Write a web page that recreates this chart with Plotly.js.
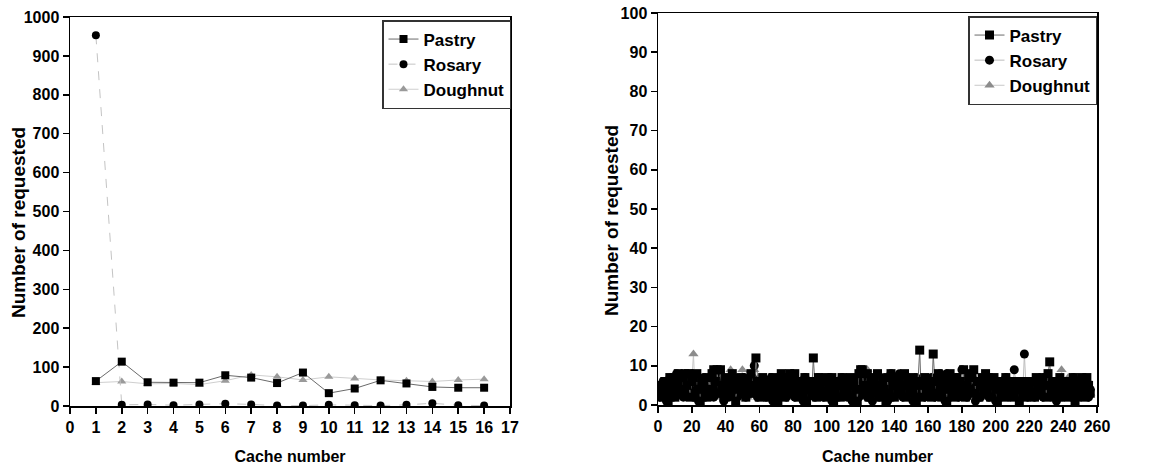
<!DOCTYPE html>
<html><head><meta charset="utf-8">
<script src="https://cdn.plot.ly/plotly-3.0.1.min.js"></script>
<style>html,body{margin:0;padding:0;background:#fff}#c{width:1174px;height:465px}</style>
</head><body><div id="c"></div>
<script>
// ---- Left chart data (cache 1..16) ----
const cacheLeft = [1,2,3,4,5,6,7,8,9,10,11,12,13,14,15,16];
const pastryLeft   = [64,114,61,60,60,79,73,59,86,33,45,66,58,49,47,47];
const rosaryLeft   = [953,3,4,2,4,6,4,1,1,3,2,1,3,7,2,1];
const doughnutLeft = [60,63,57,58,55,65,80,75,67,75,71,67,65,63,67,69];

// ---- Right chart data (cache 1..256) ----
const pastryRight = [
3,5,2,6,4,1,7,3,5,2,6,8,4,3,7,8,
5,8,2,6,7,3,8,4,1,6,5,3,2,7,4,8,
9,6,9,3,9,5,2,7,4,6,3,8,5,1,6,4,
7,3,5,2,6,4,8,5,3,12,6,2,4,7,3,5,
2,6,4,7,3,5,1,6,8,4,2,7,5,8,3,6,
8,4,2,6,5,3,7,1,4,6,3,12,5,2,7,4,
6,3,7,2,5,4,7,1,3,6,5,2,7,4,6,3,
5,7,2,6,4,1,8,9,9,3,5,8,2,6,4,7,
3,8,5,2,6,4,1,7,3,8,5,2,6,4,7,3,
5,8,2,6,4,7,3,5,1,6,14,2,5,7,3,6,
4,2,13,6,3,8,5,2,7,4,1,6,8,3,5,2,
7,4,6,3,9,2,5,7,4,8,9,3,6,2,5,7,
4,8,3,6,2,5,7,4,1,6,3,5,2,7,4,6,
3,5,2,6,4,1,5,3,6,2,4,5,3,6,2,7,
4,6,3,7,5,2,8,11,4,6,3,5,2,7,4,6,
3,5,2,6,4,7,1,5,3,6,7,4,2,7,5,3];
const rosaryRight = [
2,4,6,3,1,5,3,7,2,4,8,5,3,6,2,4,
7,3,5,8,2,6,4,1,5,3,7,2,6,4,3,5,
2,6,4,7,3,5,1,6,4,2,5,3,7,4,2,6,
3,5,7,2,4,6,3,7,10,4,2,5,3,6,4,2,
5,3,7,1,4,6,2,5,3,7,4,2,6,3,5,7,
2,4,6,3,5,1,7,4,2,6,3,5,2,4,7,3,
5,2,6,4,3,7,1,5,3,6,2,4,7,3,5,2,
6,4,1,5,3,7,2,4,6,3,5,2,7,4,1,6,
3,5,2,7,4,6,3,1,5,8,2,4,6,3,8,5,
2,7,4,6,3,5,1,4,7,2,6,3,5,2,4,6,
3,7,5,2,6,4,8,3,5,1,8,4,2,6,3,5,
7,2,4,9,3,6,2,5,4,7,3,1,6,4,2,5,
3,6,4,2,7,5,3,1,6,4,2,5,3,7,4,2,
6,3,9,5,2,4,6,3,13,4,2,6,3,5,2,4,
6,3,5,2,7,4,3,6,2,5,4,1,6,3,5,2,
4,6,3,5,2,7,4,3,6,2,5,4,3,6,2,4];
const doughnutRight = [
4,2,5,6,3,7,5,2,4,6,3,5,2,4,6,3,
5,2,4,6,13,3,5,2,6,4,3,7,5,2,4,6,
3,5,2,6,4,7,3,5,2,4,9,6,3,5,2,4,
6,9,3,5,2,4,6,3,9,5,2,4,6,3,5,2,
4,6,3,5,2,7,4,3,6,2,5,4,3,6,2,4,
6,3,5,2,4,7,3,5,2,6,4,3,5,7,2,4,
6,3,5,2,4,6,7,3,5,2,4,6,3,5,2,4,
6,3,5,2,4,6,3,5,2,4,6,9,3,5,2,4,
6,3,5,2,4,6,3,5,2,4,6,3,7,5,2,4,
6,3,5,2,7,4,3,6,2,5,4,3,6,2,4,5,
3,6,2,4,5,3,6,2,4,5,3,6,2,4,5,3,
6,2,4,5,3,7,2,4,5,3,6,2,4,5,3,6,
2,4,5,3,6,2,4,5,3,6,2,4,5,3,6,2,
4,5,3,6,2,4,5,3,6,2,4,5,3,6,2,4,
5,3,6,2,4,5,3,6,2,4,5,3,6,2,9,5,
3,6,7,4,5,3,6,2,4,5,3,6,2,4,5,3];
const cacheRight = pastryRight.map((_, i) => i + 1);

const seriesNames = ['Pastry', 'Rosary', 'Doughnut'];
const xTicksLeft = [0,1,2,3,4,5,6,7,8,9,10,11,12,13,14,15,16,17];
const xTicksRight = [0,20,40,60,80,100,120,140,160,180,200,220,240,260];

const FONT = 'Liberation Sans, Arial, sans-serif';
const stylesL = [
  {line:{color:'#6a6a6a', width:1}, marker:{symbol:'square', color:'#000', size:8}},
  {line:{color:'#c4c4c4', width:1, dash:'dash'}, marker:{symbol:'circle', color:'#000', size:8}},
  {line:{color:'#cfcfcf', width:1}, marker:{symbol:'triangle-up', color:'#9a9a9a', size:8}}
];
const stylesR = [
  {line:{color:'#6a6a6a', width:1}, marker:{symbol:'square', color:'#000', size:9}},
  {line:{color:'#bdbdbd', width:1}, marker:{symbol:'circle', color:'#000', size:9}},
  {line:{color:'#c8c8c8', width:1}, marker:{symbol:'triangle-up', color:'#8c8c8c', size:9}}
];

const leftY = [pastryLeft, rosaryLeft, doughnutLeft];
const rightY = [pastryRight, rosaryRight, doughnutRight];
const traces = [];
[2,1,0].forEach(k => {
  traces.push({x: cacheLeft, y: leftY[k], name: seriesNames[k], type:'scatter', mode:'lines+markers',
    xaxis:'x', yaxis:'y', legend:'legend', legendrank: k+1, line: stylesL[k].line, marker: stylesL[k].marker});
});
[2,1,0].forEach(k => {
  traces.push({x: cacheRight, y: rightY[k], name: seriesNames[k], type:'scatter', mode:'lines+markers',
    xaxis:'x2', yaxis:'y2', legend:'legend2', legendrank: k+1, line: stylesR[k].line, marker: stylesR[k].marker});
});

const W = 1174, H = 465;
const axBase = {showline:true, linecolor:'#000', linewidth:1.5, mirror:true, ticks:'outside', ticklen:6,
  tickwidth:1.5, tickcolor:'#000', showgrid:false, zeroline:false,
  tickfont:{family:FONT, size:16, color:'#000', weight:'bold'}};
const yTitleFont = {family:FONT, size:19, color:'#000', weight:'bold'};
const xTitleFont = {family:FONT, size:16, color:'#000', weight:'bold'};
const legBase = {xref:'paper', yref:'paper', xanchor:'left', yanchor:'top', bgcolor:'#fff',
  bordercolor:'#333', borderwidth:1.5, font:{family:FONT, size:17, color:'#000', weight:'bold'},
  tracegroupgap:0, itemwidth:30};

const layout = {
  width: W, height: H, margin:{l:0,r:0,t:0,b:0}, paper_bgcolor:'#fff', plot_bgcolor:'#fff',
  showlegend:true,
  xaxis: Object.assign({}, axBase, {domain:[70/W, 510/W], range:[0,17], tickvals:xTicksLeft,
    anchor:'y', title:{text:'Cache number', font:xTitleFont, standoff:18}}),
  yaxis: Object.assign({}, axBase, {domain:[1-406/H, 1-17/H], range:[0,1000], dtick:100, anchor:'x'}),
  xaxis2: Object.assign({}, axBase, {domain:[658/W, 1097/W], range:[0,260], tickvals:xTicksRight,
    anchor:'y2', title:{text:'Cache number', font:xTitleFont, standoff:18}}),
  yaxis2: Object.assign({}, axBase, {domain:[1-405/H, 1-13/H], range:[0,100], dtick:10, anchor:'x2'}),
  legend: Object.assign({}, legBase, {x:382/W, y:1-20/H}),
  legend2: Object.assign({}, legBase, {x:968/W, y:1-16/H}),
  annotations: [
    {text:'Number of requested', textangle:-90, font:yTitleFont, showarrow:false,
     xref:'paper', yref:'paper', x:19/W, y:1-223/H, xanchor:'center', yanchor:'middle'},
    {text:'Number of requested', textangle:-90, font:yTitleFont, showarrow:false,
     xref:'paper', yref:'paper', x:611/W, y:1-221/H, xanchor:'center', yanchor:'middle'}
  ]
};

Plotly.newPlot('c', traces, layout, {displayModeBar:false, staticPlot:true});
</script></body></html>
